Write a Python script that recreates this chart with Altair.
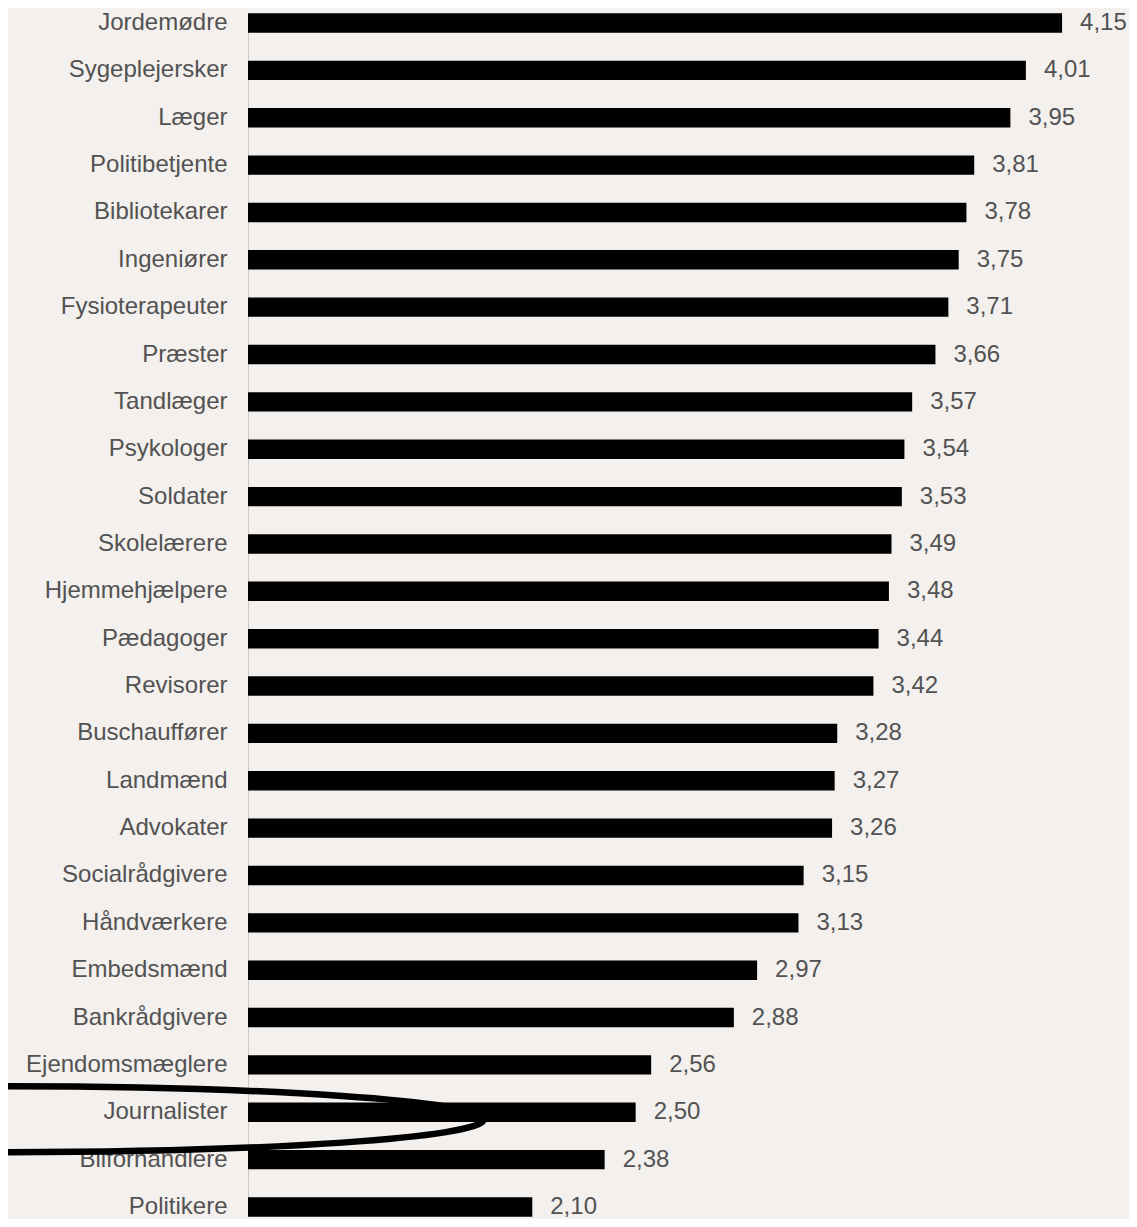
import altair as alt
import pandas as pd

professions = [
    "Jordemødre", "Sygeplejersker", "Læger", "Politibetjente", "Bibliotekarer",
    "Ingeniører", "Fysioterapeuter", "Præster", "Tandlæger", "Psykologer",
    "Soldater", "Skolelærere", "Hjemmehjælpere", "Pædagoger", "Revisorer",
    "Buschauffører", "Landmænd", "Advokater", "Socialrådgivere", "Håndværkere",
    "Embedsmænd", "Bankrådgivere", "Ejendomsmæglere", "Journalister",
    "Bilforhandlere", "Politikere",
]
scores = [
    4.15, 4.01, 3.95, 3.81, 3.78,
    3.75, 3.71, 3.66, 3.57, 3.54,
    3.53, 3.49, 3.48, 3.44, 3.42,
    3.28, 3.27, 3.26, 3.15, 3.13,
    2.97, 2.88, 2.56, 2.50,
    2.38, 2.10,
]
labels = [f"{v:.2f}".replace(".", ",") for v in scores]

highlight = ["Journalister"]
highlight_x = [0.04]

df = pd.DataFrame({"erhverv": professions, "score": scores, "label": labels})
ann = pd.DataFrame({"erhverv": highlight, "pos": highlight_x})

FONT = "Liberation Sans, Arial, sans-serif"
TXT = "#525252"

W = 881
H = 1211

y_scale = alt.Scale(paddingInner=0.59, paddingOuter=0, range=[5.3, 1208.7])

y_enc = alt.Y(
    "erhverv:N",
    sort=professions,
    title=None,
    scale=y_scale,
    axis=alt.Axis(
        ticks=False,
        labelFontSize=24,
        labelFont=FONT,
        labelColor=TXT,
        labelPadding=21,
        domainColor="#cdc9c6",
        domainWidth=1,
        grid=False,
        labelLimit=400,
    ),
)
x_scale = alt.Scale(domain=[1, 4.409], nice=False, zero=False)

bars = alt.Chart(df).mark_bar(color="#000000").encode(
    y=y_enc,
    x=alt.X("score:Q", scale=x_scale, axis=None),
    x2=alt.X2(datum=1),
)

values = alt.Chart(df).mark_text(
    align="left", baseline="middle", dx=18, fontSize=24, font=FONT, color=TXT
).encode(
    y=alt.Y("erhverv:N", sort=professions, scale=y_scale),
    x=alt.X("score:Q", scale=x_scale),
    text="label:N",
)

ellipse_path = (
    "M-1,0 C-1,-0.0377 -0.5523,-0.0682 0,-0.0682 "
    "C0.5523,-0.0682 1,-0.0377 1,0 "
    "C1,0.0377 0.5523,0.0682 0,0.0682 "
    "C-0.5523,0.0682 -1,0.0377 -1,0 Z"
)
ring = alt.Chart(ann).mark_point(
    shape=ellipse_path,
    filled=False,
    stroke="#000000",
    strokeWidth=6.5,
    opacity=1,
    size=937024,
    yOffset=7,
    clip=False,
).encode(
    y=alt.Y("erhverv:N", sort=professions, scale=y_scale),
    x=alt.X("pos:Q", scale=x_scale),
)

chart = (
    alt.layer(bars, values, ring)
    .properties(
        width=W,
        height=H,
        autosize=alt.AutoSizeParams(type="none"),
        padding={"left": 240, "top": 0, "right": 0, "bottom": 0},
        background="#f3f0ed",
    )
    .configure_view(stroke=None, fill="#f3f0ed")
)

chart.save("out.html", embed_options={"renderer": "svg", "actions": False})
